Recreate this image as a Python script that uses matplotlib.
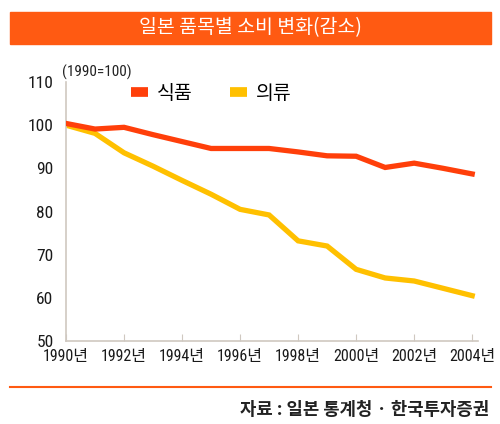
import matplotlib.pyplot as plt
from matplotlib.patches import Rectangle
from matplotlib.lines import Line2D

plt.rcParams['font.family'] = ['Noto Sans CJK KR', 'DejaVu Sans']
narrow = ['Roboto Condensed', 'Noto Sans CJK KR']

years = list(range(1990, 2005))
food = [100.4, 99.1, 99.5, 97.8, 96.2, 94.6, 94.6, 94.6, 93.8, 92.9, 92.8, 90.2, 91.2, 90.0, 88.7]
clothing = [100.0, 98.1, 93.6, 90.5, 87.2, 84.0, 80.5, 79.2, 73.2, 72.0, 66.6, 64.6, 63.9, 62.2, 60.5]
xticks = [1990, 1992, 1994, 1996, 1998, 2000, 2002, 2004]
yticks = [50, 60, 70, 80, 90, 100, 110]

orange = '#ff5a12'
red = '#ff3f0a'
yellow = '#ffc000'
grey = '#cfc8c0'

fig = plt.figure(figsize=(5, 4.24), dpi=100)

# title bar
fig.patches.append(Rectangle((10 / 500, 1 - 44 / 424), 481 / 500, 32 / 424,
                             transform=fig.transFigure, color=orange, zorder=0))
fig.text(0.5, 1 - 28 / 424, '일본 품목별 소비 변화(감소)', color='white',
         fontsize=14, ha='center', va='center', fontweight='medium')

ax = fig.add_axes([66 / 500, 1 - 341 / 424, 412 / 500, 259 / 424])
ax.plot(years, food, color=red, lw=3.8, solid_joinstyle='miter', zorder=3)
ax.plot(years, clothing, color=yellow, lw=3.8, solid_joinstyle='miter', zorder=2)

ax.set_xlim(1990, 2004.2)
ax.set_ylim(50, 110)
ax.set_xticks(xticks)
ax.set_xticklabels([f'{y}년' for y in xticks], family=narrow, fontsize=11.5)
ax.set_yticks(yticks)
ax.set_yticklabels([str(v) for v in yticks], family=narrow, fontsize=12.5)
for s in ['top', 'right']:
    ax.spines[s].set_visible(False)
for s in ['left', 'bottom']:
    ax.spines[s].set_color(grey)
    ax.spines[s].set_linewidth(1.2)
ax.tick_params(axis='x', direction='in', length=5, color=grey,
               labelcolor='#1a1a1a', pad=6)
ax.tick_params(axis='y', length=0, labelcolor='#1a1a1a', pad=9)

handles = [Line2D([], [], color=red, lw=7, solid_capstyle='butt'),
           Line2D([], [], color=yellow, lw=7, solid_capstyle='butt')]
ax.legend(handles, ['식품', '의류'], ncol=2, frameon=False, fontsize=14,
          loc='upper left', bbox_to_anchor=(0.115, 1.065), handlelength=0.9,
          handletextpad=0.45, columnspacing=1.9)

fig.text(62 / 500, 1 - 72 / 424, '(1990=100)', fontsize=11, ha='left', va='center',
         color='#222222', family=narrow)

# bottom rule and source
fig.add_artist(Line2D([10 / 500, 491 / 500], [1 - 387 / 424, 1 - 387 / 424],
                      transform=fig.transFigure, color=orange, lw=1.5))
fig.text(489 / 500, 1 - 410 / 424, '자료 : 일본 통계청 · 한국투자증권', fontsize=12.8,
         ha='right', va='center', color='#222222', fontweight='bold')

fig.savefig('out.png', dpi=100)
